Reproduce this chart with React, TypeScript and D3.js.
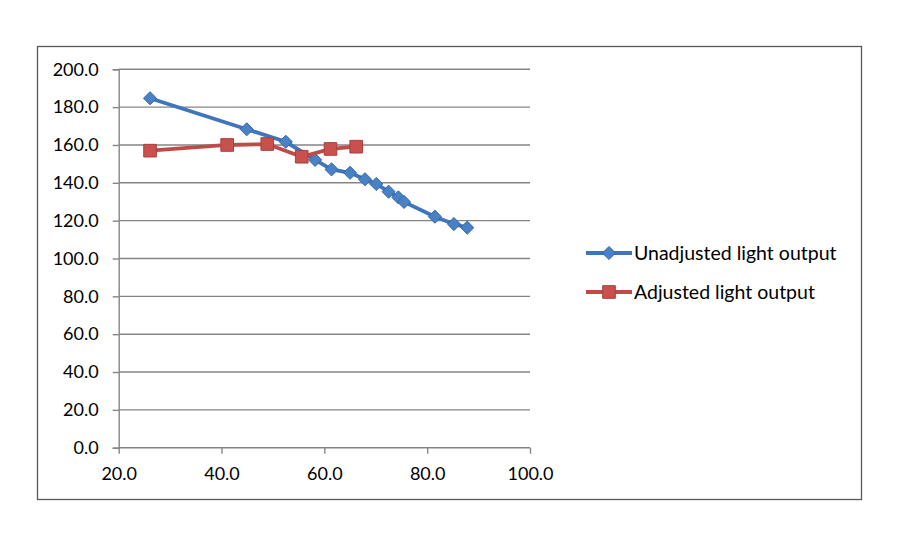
import React, { useRef, useEffect } from "react";
import * as d3 from "d3";

// values
const unadjX = [26.1, 44.9, 52.5, 58.2, 61.4, 65.0, 67.9, 70.1, 72.5, 74.4, 75.5, 81.5, 85.2, 87.8];
const unadjY = [184.7, 168.3, 161.7, 152.1, 147.1, 145.3, 141.9, 139.4, 135.3, 132.3, 129.9, 122.1, 118.2, 116.3];
const adjX = [26.1, 41.1, 48.9, 55.6, 61.2, 66.2];
const adjY = [157.0, 160.0, 160.5, 153.8, 157.9, 159.1];
const xTicks = [20, 40, 60, 80, 100];
const yTicks = [0, 20, 40, 60, 80, 100, 120, 140, 160, 180, 200];
const seriesNames = ["Unadjusted light output", "Adjusted light output"];

const App: React.FC = () => {
  const svgRef = useRef<SVGSVGElement>(null);
  const width = 900;
  const height = 550;

  useEffect(() => {
    if (!svgRef.current) return;
    const svg = d3.select(svgRef.current);
    svg.selectAll("*").remove();

    const plot = { left: 118.7, right: 530, top: 69.3, bottom: 447.7 };
    const font = "Lato, 'Open Sans', sans-serif";
    const gridColor = "#858585";

    // outer chart border
    svg
      .append("rect")
      .attr("x", 37.5)
      .attr("y", 46.5)
      .attr("width", 824)
      .attr("height", 453)
      .attr("fill", "white")
      .attr("stroke", "#595959")
      .attr("stroke-width", 1.3);

    const x = d3.scaleLinear().domain([20, 100]).range([plot.left, plot.right]);
    const y = d3.scaleLinear().domain([0, 200]).range([plot.bottom, plot.top]);

    // horizontal gridlines
    svg
      .append("g")
      .selectAll("line")
      .data(yTicks.filter((t) => t > 0))
      .enter()
      .append("line")
      .attr("x1", plot.left)
      .attr("x2", plot.right)
      .attr("y1", (d) => y(d))
      .attr("y2", (d) => y(d))
      .attr("stroke", gridColor)
      .attr("stroke-width", 1.4);

    // y axis
    const yAxis = svg
      .append("g")
      .attr("transform", `translate(${plot.left},0)`)
      .call(
        d3
          .axisLeft(y)
          .tickValues(yTicks)
          .tickSize(6)
          .tickPadding(14)
          .tickFormat((d) => d3.format(".1f")(d as number))
      );
    yAxis.selectAll("path, line").attr("stroke", gridColor).attr("stroke-width", 1.4);
    yAxis.selectAll("text").attr("font-family", font).attr("font-size", 18).attr("fill", "#000");

    // x axis
    const xAxis = svg
      .append("g")
      .attr("transform", `translate(0,${plot.bottom})`)
      .call(
        d3
          .axisBottom(x)
          .tickValues(xTicks)
          .tickSize(6)
          .tickSizeOuter(0)
          .tickPadding(14)
          .tickFormat((d) => d3.format(".1f")(d as number))
      );
    xAxis.select(".domain").attr("d", `M${plot.left},0H${plot.right}`);
    xAxis.selectAll("path, line").attr("stroke", gridColor).attr("stroke-width", 1.4);
    xAxis.selectAll("text").attr("font-family", font).attr("font-size", 18).attr("fill", "#000");

    const line = d3
      .line<[number, number]>()
      .x((d) => x(d[0]))
      .y((d) => y(d[1]));

    const unadj: [number, number][] = unadjX.map((v, i) => [v, unadjY[i]]);
    const adj: [number, number][] = adjX.map((v, i) => [v, adjY[i]]);

    const blueLine = "#3F75BA";
    const blueFill = "#4A80C4";
    const redLine = "#BE4B48";
    const redFill = "#C9504D";

    const diamond = d3.symbol().type(d3.symbolDiamond2).size(110);
    const square = d3.symbol().type(d3.symbolSquare).size(160);

    // unadjusted series
    svg
      .append("path")
      .datum(unadj)
      .attr("d", line)
      .attr("fill", "none")
      .attr("stroke", blueLine)
      .attr("stroke-width", 3.8);
    svg
      .append("g")
      .selectAll("path")
      .data(unadj)
      .enter()
      .append("path")
      .attr("d", diamond as any)
      .attr("transform", (d) => `translate(${x(d[0])},${y(d[1])})`)
      .attr("fill", blueFill)
      .attr("stroke", "#3568AA")
      .attr("stroke-width", 1);

    // adjusted series
    svg
      .append("path")
      .datum(adj)
      .attr("d", line)
      .attr("fill", "none")
      .attr("stroke", redLine)
      .attr("stroke-width", 3.8);
    svg
      .append("g")
      .selectAll("path")
      .data(adj)
      .enter()
      .append("path")
      .attr("d", square as any)
      .attr("transform", (d) => `translate(${x(d[0])},${y(d[1])})`)
      .attr("fill", redFill)
      .attr("stroke", "#A8403D")
      .attr("stroke-width", 1);

    // legend
    const legend = svg.append("g");
    const legendY = [253, 292];
    const legendColors = [
      [blueLine, blueFill],
      [redLine, redFill],
    ];
    seriesNames.forEach((name, i) => {
      legend
        .append("line")
        .attr("x1", 586)
        .attr("x2", 632)
        .attr("y1", legendY[i])
        .attr("y2", legendY[i])
        .attr("stroke", legendColors[i][0])
        .attr("stroke-width", 3.8);
      legend
        .append("path")
        .attr("d", (i === 0 ? diamond : square) as any)
        .attr("transform", `translate(609,${legendY[i]})`)
        .attr("fill", legendColors[i][1])
        .attr("stroke", i === 0 ? "#3568AA" : "#A8403D");
      legend
        .append("text")
        .attr("x", 634)
        .attr("y", legendY[i])
        .attr("dy", "0.35em")
        .attr("font-family", font)
        .attr("font-size", 19.5)
        .attr("fill", "#000")
        .text(name);
    });
  }, []);

  return (
    <svg
      ref={svgRef}
      width={width}
      height={height}
      style={{ position: "absolute", left: 0, top: 0, background: "white" }}
    ></svg>
  );
};

export default App;
